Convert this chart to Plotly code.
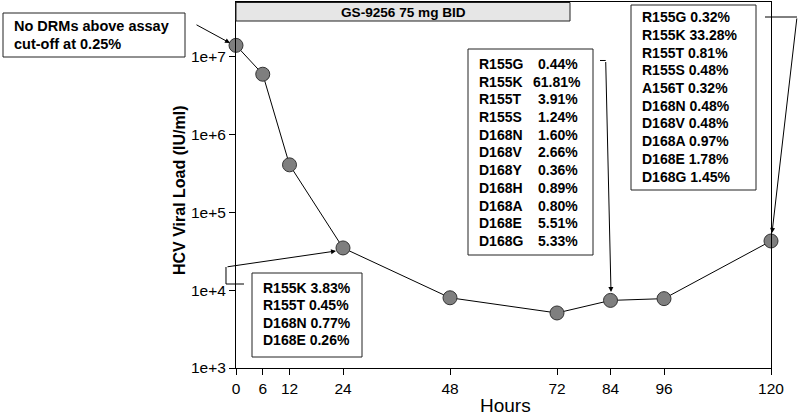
import plotly.graph_objects as go

# ---------------- data ----------------
hours = [0, 6, 12, 24, 48, 72, 84, 96, 120]
viral_load = [1.41e7, 6.0e6, 4.1e5, 3.5e4, 8.0e3, 5.1e3, 7.4e3, 7.8e3, 4.3e4]

x_ticks = [0, 6, 12, 24, 48, 72, 84, 96, 120]
y_ticks = [1e3, 1e4, 1e5, 1e6, 1e7]
y_ticklabels = ["1e+3", "1e+4", "1e+5", "1e+6", "1e+7"]

dosing_label = "GS-9256 75 mg BID"
box_a_lines = ["No DRMs above assay", "cut-off at 0.25%"]
box_b_lines = ["R155K 3.83%", "R155T 0.45%", "D168N 0.77%", "D168E 0.26%"]
box_c_names = ["R155G", "R155K", "R155T", "R155S", "D168N", "D168V",
               "D168Y", "D168H", "D168A", "D168E", "D168G"]
box_c_values = ["0.44%", "61.81%", "3.91%", "1.24%", "1.60%", "2.66%",
                "0.36%", "0.89%", "0.80%", "5.51%", "5.33%"]
box_d_lines = ["R155G 0.32%", "R155K 33.28%", "R155T 0.81%", "R155S 0.48%",
               "A156T 0.32%", "D168N 0.48%", "D168V 0.48%", "D168A 0.97%",
               "D168E 1.78%", "D168G 1.45%"]

# ---------------- layout helpers (pixel -> paper) ----------------
W, H = 800, 415
L, R, T, B = 236, 771, 2, 368


def px(x):
    return (x - L) / (R - L)


def py(y):
    return (B - y) / (B - T)


BOLD = "Liberation Sans, Arial, sans-serif"
NARROW = "Liberation Sans Narrow, Arial Narrow, Liberation Sans, sans-serif"

fig = go.Figure(
    go.Scatter(
        x=hours, y=viral_load, mode="lines+markers",
        line=dict(color="black", width=1),
        marker=dict(size=14, color="#7f7f7f", line=dict(color="#333333", width=1)),
        cliponaxis=False, hoverinfo="x+y",
    )
)

fig.update_layout(
    width=W, height=H,
    margin=dict(l=L, r=W - R, t=T, b=H - B, pad=0),
    plot_bgcolor="white", paper_bgcolor="white", showlegend=False,
)
fig.update_xaxes(
    range=[0, 120], tickvals=x_ticks, ticktext=[str(v) for v in x_ticks],
    ticks="outside", ticklen=6, tickcolor="black", tickwidth=1,
    showline=True, linecolor="black", linewidth=1, mirror=True,
    showgrid=False, zeroline=False,
    tickfont=dict(family=NARROW, size=15.5, color="black"),
)
fig.update_yaxes(
    type="log", range=[3, 7.707], tickvals=y_ticks, ticktext=y_ticklabels,
    ticks="outside", ticklen=6, tickcolor="black", tickwidth=1,
    showline=True, linecolor="black", linewidth=1, mirror=True,
    showgrid=False, zeroline=False,
    tickfont=dict(family=NARROW, size=15.5, color="black"),
)

shapes = []
ann = []


def box(x0, y0, x1, y1, fill="white"):
    shapes.append(dict(type="rect", xref="paper", yref="paper",
                       x0=px(x0), x1=px(x1), y0=py(y1), y1=py(y0),
                       line=dict(color="#222222", width=1), fillcolor=fill, layer="above"))


def text(x, y, s, size=14, anchor="left", bold=True, family=BOLD):
    ann.append(dict(xref="paper", yref="paper", x=px(x), y=py(y),
                    text=("<b>%s</b>" % s) if bold else s, showarrow=False,
                    xanchor=anchor, yanchor="middle",
                    font=dict(family=family, size=size, color="black")))


def polyline(points):
    d = "M " + " L ".join("%f,%f" % (px(a), py(b)) for a, b in points)
    shapes.append(dict(type="path", xref="paper", yref="paper", path=d,
                       line=dict(color="black", width=1), layer="above"))


def arrow(tail, head):
    ann.append(dict(xref="paper", yref="paper", x=px(head[0]), y=py(head[1]),
                    ax=tail[0] - head[0], ay=tail[1] - head[1], text="",
                    showarrow=True, arrowhead=2, arrowsize=1, arrowwidth=1,
                    arrowcolor="black", standoff=0))


# dosing bar
box(236, 2.5, 570, 21, fill="#e6e6e6")
text(403, 12.5, dosing_label, size=13.6, anchor="center")

# box A (baseline)
box(3, 13, 185, 57)
for i, s in enumerate(box_a_lines):
    text(12, 26 + 18 * i, s, size=14.5)
arrow((195, 24), (230, 43))

# box B (24 h)
box(252, 273, 362, 357)
for i, s in enumerate(box_b_lines):
    text(261, 288 + 17.3 * i, s, size=14)
polyline([(244, 284), (226, 284), (226, 267)])
arrow((226, 267), (336, 251))

# box C (84 h)
box(468, 49, 593, 255)
for i, (n, v) in enumerate(zip(box_c_names, box_c_values)):
    yy = 64 + 17.7 * i
    text(477, yy, n, size=14)
    text(536 if len(v) <= 5 else 531, yy, v, size=14)
polyline([(600, 60.5), (605.7, 60.5)])
arrow((605.7, 60.5), (611, 292))

# box D (120 h)
box(631, 5, 756, 190)
for i, s in enumerate(box_d_lines):
    text(640, 17.3 + 17.7 * i, s, size=14)
polyline([(765, 17), (797, 17)])
arrow((797, 17), (772, 233))

# axis titles
text(505, 405, "Hours", size=19, anchor="center", bold=False, family=NARROW)
ann.append(dict(xref="paper", yref="paper", x=px(179), y=py(190),
                text="<b>HCV Viral Load (IU/ml)</b>", showarrow=False,
                textangle=-90, xanchor="center", yanchor="middle",
                font=dict(family=BOLD, size=16, color="black")))

fig.update_layout(shapes=shapes, annotations=ann)
fig.write_html(
    "out.html",
    config={"displayModeBar": False},
    post_script="document.body.style.margin='0';document.body.style.padding='0';",
)
